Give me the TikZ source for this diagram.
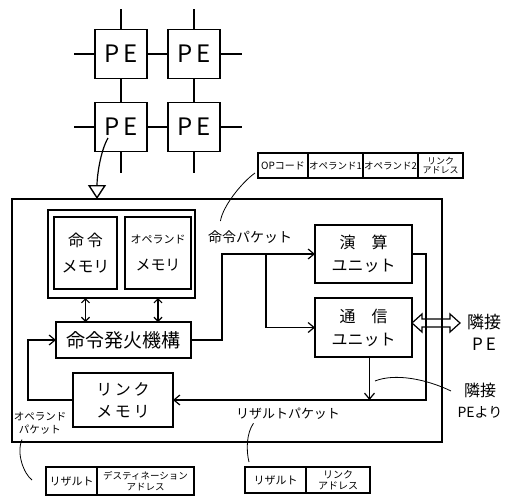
\documentclass[tikz,border=0pt]{standalone}
\usepackage{fontspec}
\setmainfont{Noto Sans CJK JP}
\usetikzlibrary{arrows.meta,calc}
\newcommand{\fsz}[1]{\fontsize{#1}{#1}\selectfont}
\begin{document}
\begin{tikzpicture}[x=1pt,y=-1pt,
  box/.style={draw, line width=1.4pt, inner sep=0pt, outer sep=0pt, align=center},
  pebox/.style={box, minimum width=52pt, minimum height=49pt, font=\fsz{24}},
  ln/.style={line width=1.2pt},
  arr/.style={ln, -{Straight Barb[length=6pt,width=10pt]}},
  dbl/.style={ln, {Straight Barb[length=4pt,width=8pt]}-{Straight Barb[length=4pt,width=8pt]}},
  lead/.style={line width=0.8pt},
  cell/.style={draw, line width=1.2pt, inner sep=0.5pt, outer sep=0pt, anchor=west, font=\fontsize{10}{10.5}\selectfont, align=center},
  small/.style={font=\fontsize{9}{9.5}\selectfont},
]
\useasboundingbox (0,0) rectangle (507,498);

% PE grid
\node[pebox] (pe1) at (121,54) {P\,E};
\node[pebox] (pe2) at (194,54) {P\,E};
\node[pebox] (pe3) at (121,127) {P\,E};
\node[pebox] (pe4) at (194,127) {P\,E};
\draw[ln] (pe1.north) -- ++(0,-21);
\draw[ln] (pe2.north) -- ++(0,-21);
\draw[ln] (pe1.west) -- ++(-21,0);
\draw[ln] (pe3.west) -- ++(-21,0);
\draw[ln] (pe2.east) -- ++(22,0);
\draw[ln] (pe4.east) -- ++(22,0);
\draw[ln] (pe3.south) -- ++(0,21);
\draw[ln] (pe4.south) -- ++(0,21);
\draw[ln] (pe1.east) -- (pe2.west);
\draw[ln] (pe3.east) -- (pe4.west);
\draw[ln] (pe1.south) -- (pe3.north);
\draw[ln] (pe2.south) -- (pe4.north);

% outer PE box
\node[box, minimum width=430pt, minimum height=243pt] (outer) at (227,320.5) {};
\draw[ln, -{Triangle[open, length=14pt, width=18pt, line width=1.4pt]}]
  ($(pe3.center)+(-13,11)$) .. controls +(-8,14) and +(0,-22) .. ($(outer.north west)+(85,0)$);

% memories
\node[box, line width=1.8pt, minimum width=147pt, minimum height=88pt] (memgrp) at (121.5,254) {};
\node[box, minimum width=63pt, minimum height=72pt, font=\fontsize{16}{18}\selectfont] (imem) at (85.5,253) {命\,令\\[8pt]メモリ};
\node[box, minimum width=66pt, minimum height=72pt, font=\fontsize{15}{17}\selectfont] (omem) at (158,253) {{\fsz{11}オペランド}\\[10pt]メモリ};

\node[box, minimum width=135pt, minimum height=36pt, font=\fsz{19}] (fire) at (123.5,340) {命令発火機構};
\node[box, minimum width=100pt, minimum height=54pt, font=\fontsize{16}{18}\selectfont] (link) at (123,400) {リ\,ン\,ク\\[4pt]メ\,モ\,リ};

\node[box, minimum width=97pt, minimum height=58pt, font=\fontsize{16}{18}\selectfont] (alu) at (363.5,254) {演\quad 算\hspace{12pt}\\[5pt]ユニット\hspace{6pt}};
\node[box, minimum width=97pt, minimum height=59pt, font=\fontsize{16}{18}\selectfont] (comm) at (363.5,327.5) {通\quad 信\hspace{6pt}\\[5pt]ユニット};

% connectors
\draw[dbl] (memgrp.south -| imem) -- (fire.north -| imem);
\draw[dbl] (memgrp.south -| omem) -- (fire.north -| omem);
\draw[arr] (fire.east) -- ++(31,0) |- (alu.west);
\coordinate (br) at ($(alu.west)+(-49,0)$);
\draw[arr] (br) |- (comm.west);
\draw[arr] (alu.east) -- ++(14,0) |- (link.east);
\coordinate (cs) at ($(comm.south)+(6,0)$);
\draw[arr] (cs) -- (cs |- link.east);
\draw[arr] (link.west) -- ++(-45,0) |- (fire.west);

% neighbour double arrow
\begin{scope}[shift={(comm.east)}]
\draw[line width=1.2pt] (0,-4.5) -- (10,-13.5) -- (10,-8.5) -- (38,-8.5) -- (38,-13.5) -- (48,-4.5)
  -- (38,4.5) -- (38,-0.5) -- (10,-0.5) -- (10,4.5) -- cycle;
\end{scope}

% labels
\node[align=center, font=\fontsize{17}{22}\selectfont] (adj) at (484,332) {隣接\\P\,E};
\node[align=center, font=\fontsize{16}{21}\selectfont] (adj2) at (480,401) {隣接\\{\fsz{14}PEより}};
\draw[lead] ($(comm.south)+(11.5,24)$) .. controls +(20,-8) and +(-25,-12) .. ($(adj2.west)+(-3,-10)$);

\node[font=\fsz{14}] (ipkt) at (250,237) {命令パケット};
\node[font=\fsz{13}] (rpkt) at (288,414) {リザルトパケット};
\node[align=center, font=\fontsize{10.5}{13}\selectfont] (opkt) at (40,423) {オペランド\\パケット};

% packet formats
\node[cell, minimum width=50pt, minimum height=25pt] (t1) at (258,165.5) {OPコード};
\node[cell, font=\fsz{9.5}, minimum width=55pt, minimum height=25pt] (t2) at (t1.east) {オペランド1};
\node[cell, font=\fsz{9.5}, minimum width=55pt, minimum height=25pt] (t3) at (t2.east) {オペランド2};
\node[cell, small, minimum width=45pt, minimum height=25pt] (t4) at (t3.east) {リンク\\アドレス};

\node[cell, font=\fsz{11}, minimum width=51pt, minimum height=28pt] (b1) at (46,481) {リザルト};
\node[cell, font=\fontsize{9.5}{10.5}\selectfont, minimum width=97pt, minimum height=28pt] (b2) at (b1.east) {デスティネーション\\アドレス};

\node[cell, font=\fsz{11}, minimum width=61pt, minimum height=26pt] (r1) at (245,480) {リザルト};
\node[cell, font=\fontsize{10}{10.5}\selectfont, minimum width=64pt, minimum height=26pt] (r2) at (r1.east) {リンク\\アドレス};

% leaders
\draw[lead] ($(t1.south west)+(-3,-5)$) .. controls +(-14,10) and +(2,-14) .. ($(ipkt.north west)+(16,-6)$);
\draw[lead] ($(rpkt.south west)+(21,0)$) .. controls +(-7,10) and +(-3,-12) .. ($(r1.north west)+(4,-5)$);
\draw[lead] ($(opkt.south)+(-18,2)$) .. controls +(-6,14) and +(-8,-6) .. ($(b1.west)+(-14,-1)$);
\end{tikzpicture}
\end{document}
